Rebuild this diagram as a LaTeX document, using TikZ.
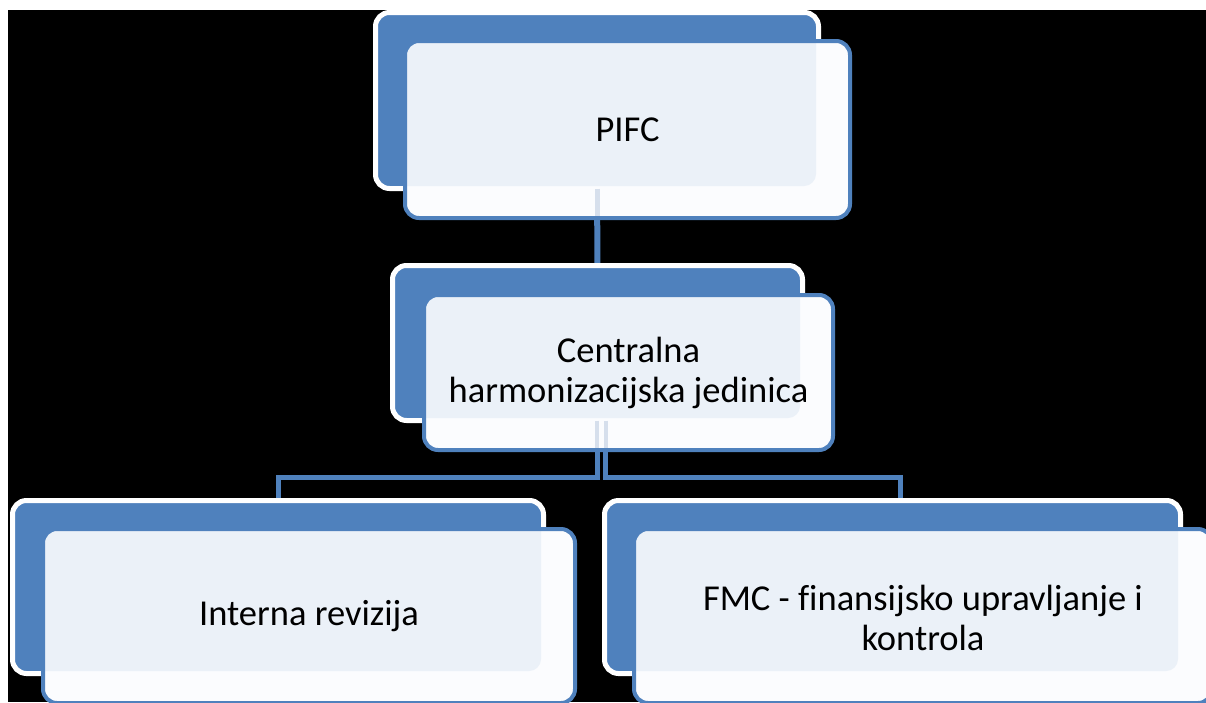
\documentclass[tikz,border=0pt]{standalone}
\usepackage{fontspec}
\setmainfont[Ligatures=NoCommon]{Carlito}
\usetikzlibrary{calc}
\definecolor{sblue}{RGB}{79,129,189}
\definecolor{slight}{RGB}{235,241,248}
\definecolor{swhite}{RGB}{251,252,254}
\definecolor{sfaint}{RGB}{214,223,236}
\pgfdeclarelayer{bglayer}
\pgfdeclarelayer{connlayer}
\pgfsetlayers{bglayer,connlayer,main}
\tikzset{
  backbox/.style={draw=white, line width=5pt, fill=sblue, rounded corners=14pt, inner sep=0pt, outer sep=0pt},
  frontfill/.style={fill=swhite, rounded corners=14pt, inner sep=0pt, outer sep=0pt},
  frontline/.style={draw=sblue, line width=4pt, rounded corners=14pt},
  lbl/.style={align=center, inner sep=0pt, text=black, font=\fontsize{36.5}{40}\selectfont},
  conn/.style={draw=sblue, line width=6pt},
  faint/.style={draw=sfaint, line width=5pt}
}
\newcommand{\boxpair}[9]{%
  \node[backbox, minimum width=#4pt, minimum height=#5pt] (#1b) at (#2,#3) {};
  \node[frontfill, minimum width=#8pt, minimum height=#9pt] (#1f) at (#6,#7) {};
  \begin{scope}
    \clip[rounded corners=14pt] (#1f.north west) rectangle (#1f.south east);
    \fill[slight, rounded corners=12pt] ($(#1b.north west)+(2.5,2.5)$) rectangle ($(#1b.south east)+(-2.5,-2.5)$);
  \end{scope}
  \draw[frontline] (#1f.north west) rectangle (#1f.south east);
}
\begin{document}
\begin{tikzpicture}[x=1pt,y=-1pt]
\useasboundingbox (0,0) rectangle (1206,702);
\begin{pgfonlayer}{bglayer}
  \fill[white] (0,0) rectangle (1206,702);
  \fill[black] (8,10) rectangle (1206,702);
\end{pgfonlayer}

% boxes
\boxpair{t}{597}{100.5}{443}{176}{627.5}{129.5}{445}{177}
\boxpair{m}{597.5}{343}{410}{155}{628.5}{372.5}{409}{155}
\boxpair{l}{278}{587}{531}{173}{309}{616}{532}{174}
\boxpair{r}{892.5}{587}{576}{173}{923}{616}{578}{174}

% labels
\node[lbl] (tt) at (tf) {PIFC};
\node[lbl] (mt) at (mf) {Centralna\\harmonizacijska jedinica};
\node[lbl] (lt) at (lf) {Interna revizija};
\node[lbl] (rt) at ([yshift=-2pt]rf.center) {FMC - finansijsko upravljanje i\\kontrola};

% connectors
\coordinate (hbar) at (0,477);
\begin{pgfonlayer}{connlayer}
  \draw[conn] (tb.south) -- (mb.north);
  \draw[conn, line width=5pt] ([xshift=-0.5pt]mb.south) -- ([xshift=-0.5pt]mb.south |- hbar) -| (lb.north);
  \draw[conn, line width=5pt] ([xshift=8pt]mb.south) -- ([xshift=8pt]mb.south |- hbar) -| ([xshift=7.5pt]rb.north);
\end{pgfonlayer}

% connectors faintly seen through the front boxes
\draw[faint] (tb.south) -- ([yshift=2pt]tb.south |- tf.south);
\draw[faint, line width=4pt] ([xshift=-0.5pt]mb.south) -- ([xshift=-0.5pt,yshift=2pt]mb.south |- mf.south);
\draw[faint, line width=4pt] ([xshift=8pt]mb.south) -- ([xshift=8pt,yshift=2pt]mb.south |- mf.south);
\end{tikzpicture}
\end{document}
